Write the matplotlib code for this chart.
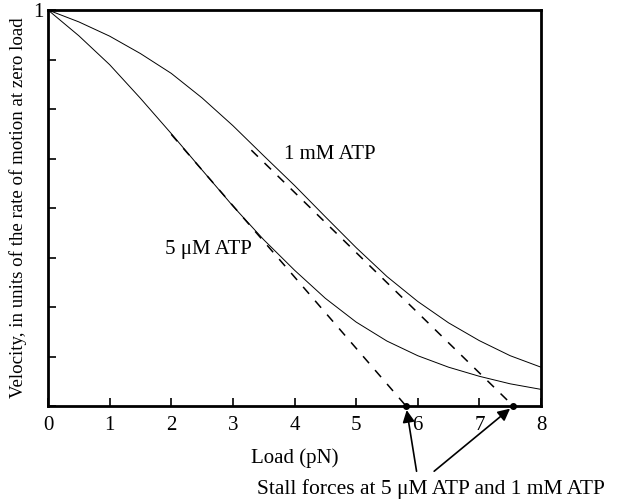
import numpy as np
import matplotlib
matplotlib.use('Agg')
import matplotlib.pyplot as plt

plt.rcParams['font.family'] = ['Liberation Serif', 'DejaVu Serif']
plt.rcParams['font.size'] = 15

# load (pN) and relative velocity
load = [0, 0.5, 1, 1.5, 2, 2.5, 3, 3.5, 4, 4.5, 5, 5.5, 6, 6.5, 7, 7.5, 8]
v_1mM = [1.000, 0.970, 0.934, 0.890, 0.840, 0.778, 0.708, 0.632, 0.557,
         0.478, 0.400, 0.327, 0.264, 0.210, 0.165, 0.127, 0.098]
v_5uM = [1.000, 0.935, 0.862, 0.777, 0.688, 0.596, 0.505, 0.420, 0.343,
         0.272, 0.212, 0.164, 0.127, 0.098, 0.075, 0.056, 0.042]

# linear extrapolations to the stall forces
stall_5uM = 5.81
stall_1mM = 7.55
dash_5uM_x = [2.0, stall_5uM]
dash_5uM_y = [0.686, 0.0]
dash_1mM_x = [3.3, stall_1mM]
dash_1mM_y = [0.646, 0.0]

xticks = [0, 1, 2, 3, 4, 5, 6, 7, 8]

fig = plt.figure(figsize=(6.18, 4.99), dpi=100)
ax = fig.add_axes([48/618, 1 - 406/499, (541 - 48)/618, (406 - 10)/499])

ax.plot(load, v_1mM, color='black', lw=0.7)
ax.plot(load, v_5uM, color='black', lw=0.7)
ax.plot(dash_5uM_x, dash_5uM_y, color='black', lw=1.1, dashes=(6, 6))
ax.plot(dash_1mM_x, dash_1mM_y, color='black', lw=1.1, dashes=(6, 6))
ax.plot([stall_5uM, stall_1mM], [0, 0], 'o', color='black', ms=4, clip_on=False, zorder=5)

ax.text(3.83, 0.634, '1 mM ATP', va='center', ha='left')
ax.text(1.9, 0.394, '5 μM ATP', va='center', ha='left')

ax.set_xlim(0, 8)
ax.set_ylim(0, 1)
ax.set_xticks(xticks)
ax.set_xticklabels([str(t) for t in xticks])
ax.set_yticks(np.arange(0, 1.001, 0.125))
ax.set_yticklabels([''] * 8 + ['1'])
ax.tick_params(direction='in', length=6, width=1.2, pad=7)
ax.tick_params(axis='y', pad=3)
for s in ax.spines.values():
    s.set_linewidth(2)

ax.set_xlabel('Load (pN)', labelpad=10)
ax.set_ylabel('Velocity, in units of the rate of motion at zero load', fontsize=13.6)
ax.yaxis.set_label_coords(-0.043, 0.5)

fig.text(431/618, 1 - 489/499, 'Stall forces at 5 μM ATP and 1 mM ATP',
         ha='center', va='center', fontsize=15.5)
arrow = dict(arrowstyle='-|>', color='black', lw=1.2, mutation_scale=18, shrinkB=3)
ax.annotate('', xy=(stall_5uM, 0), xytext=(417/618, 1 - 474/499),
            textcoords='figure fraction', arrowprops=arrow)
ax.annotate('', xy=(stall_1mM, 0), xytext=(432/618, 1 - 473/499),
            textcoords='figure fraction', arrowprops=arrow)

fig.savefig('out.png', dpi=100)
